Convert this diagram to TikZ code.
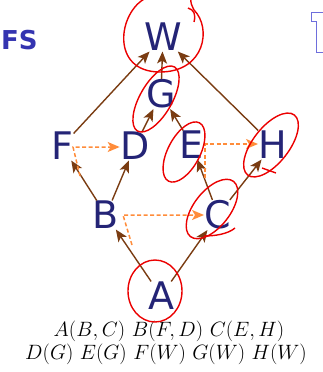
\documentclass[tikz,border=0pt]{standalone}
\usepackage{fontspec}
\newfontfamily\letterfont{DejaVu Sans}
\newfontfamily\titlefont{DejaVu Sans Bold}
\usetikzlibrary{arrows.meta}
\definecolor{navy}{RGB}{36,36,118}
\definecolor{brownarr}{RGB}{122,60,18}
\definecolor{orangearr}{RGB}{255,140,58}
\definecolor{titleblue}{RGB}{52,52,176}
\definecolor{outlineblue}{RGB}{110,110,220}
\definecolor{penred}{RGB}{235,0,0}
\tikzset{
  lt/.style={text=navy, inner sep=0.5pt, font=\letterfont\fontsize{38}{40}\selectfont},
  tree/.style={draw=brownarr, line width=1.4pt, -{Stealth[length=12pt,width=10pt,inset=3pt]}},
  cross/.style={draw=orangearr, line width=1.5pt, dashed, dash pattern=on 4pt off 2.5pt, -{Stealth[length=12pt,width=10pt,inset=3pt]}},
  pen/.style={draw=penred, line width=1.4pt},
}
\begin{document}
\begin{tikzpicture}[x=1pt,y=-1pt]
\useasboundingbox (0,0) rectangle (322,372);
% title fragments
\node[anchor=west, inner sep=0, text=titleblue, font=\titlefont\fontsize{26}{28}\selectfont] (fs) at (1,40) {FS};
\draw[outlineblue, line width=1pt] (323,12) -- (311,12) -- (311,21) -- (316,21) -- (316,52) -- (323,52);
% nodes
\node[lt] (W) at (163,37) {W};
\node[lt] (G) at (161,94) {G};
\node[lt] (F) at (62,146) {F};
\node[lt] (D) at (135,146) {D};
\node[lt] (E) at (192,145) {E};
\node[lt] (H) at (273,145) {H};
\node[lt] (B) at (106,215) {B};
\node[lt] (C) at (218,215) {C};
\node[lt] (A) at (161,296) {A};
% tree edges
\draw[tree] (A) -- (B);
\draw[tree] (A) -- (C);
\draw[tree] (B) -- (F);
\draw[tree] (B) -- (D);
\draw[tree] (C) -- (E);
\draw[tree] (C) -- (H);
\draw[tree] (D) -- (G);
\draw[tree] (E) -- (G);
\draw[tree] (F) -- (W);
\draw[tree] (G) -- (W);
\draw[tree] (H) -- (W);
% cross edges
\coordinate (fs1) at (80,176);
\coordinate (fs2) at (73,147);
\draw[cross] (fs1) -- (fs2) -- (D.west |- fs2);
\coordinate (bs1) at (132,245);
\coordinate (bs2) at (123,215);
\draw[cross] (bs1) -- (bs2) -- (C.west |- bs2);
\coordinate (es1) at (205,178);
\coordinate (es2) at (205,144);
\draw[cross] (es1) -- (es2) -- (H.west |- es2);
% adjacency text
\node[inner sep=0, font=\fontsize{21.8}{24}\selectfont] (l1) at (169,331) {$A(B,C)\ B(F,D)\ C(E,H)$};
\node[inner sep=0, font=\fontsize{21.5}{24}\selectfont] (l2) at (166,354) {$D(G)\ E(G)\ F(W)\ G(W)\ H(W)$};
% red pen marks
\draw[pen] (146,-2) .. controls (118,12) and (110,72) .. (160,72) .. controls (205,72) and (212,28) .. (194,10) .. controls (192,6) and (190,2) .. (191,-2);
\draw[pen] (188,8) .. controls (194,10) and (196,14) .. (194,22);
\draw[pen, rotate around={60:(156,99)}] (156,99) ellipse [x radius=37pt, y radius=16pt];
\draw[pen, rotate around={62:(184,152)}] (184,152) ellipse [x radius=33pt, y radius=16pt];
\draw[pen, rotate around={52:(271,145)}] (271,145) ellipse [x radius=38pt, y radius=18pt];
\draw[pen] (262,168) -- (276,173);
\draw[pen, rotate around={52:(212,209)}] (212,209) ellipse [x radius=35pt, y radius=18pt];
\draw[pen] (204,236) .. controls (215,236) and (228,234) .. (235,228);
\draw[pen] (155,291) ellipse [x radius=27pt, y radius=31pt];
\end{tikzpicture}
\end{document}
